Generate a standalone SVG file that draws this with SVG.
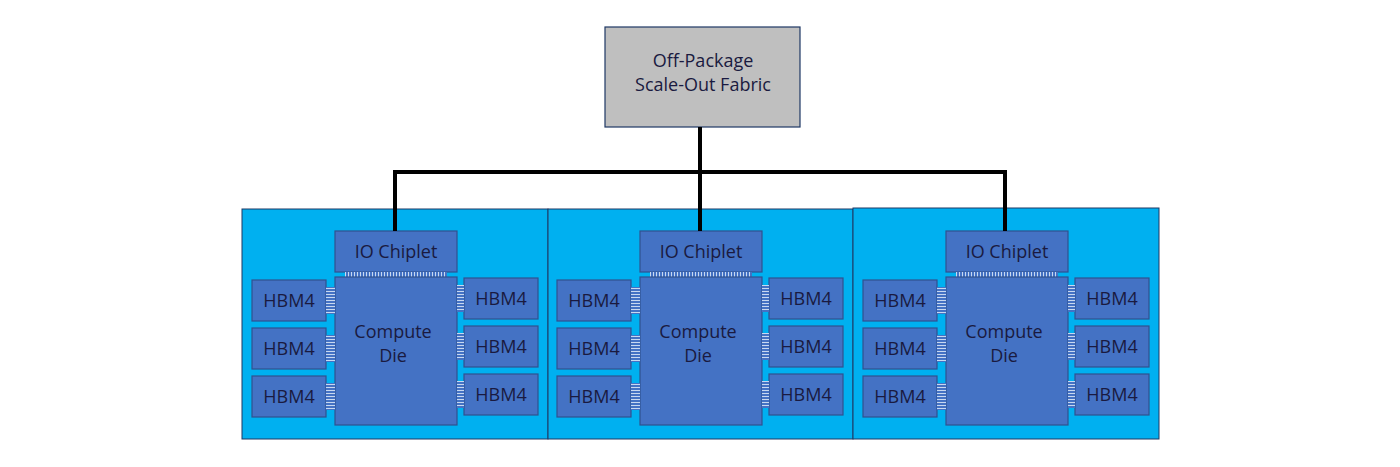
<svg xmlns="http://www.w3.org/2000/svg" width="1400" height="467" viewBox="0 0 1400 467">
<defs>
<style>
.pkg{fill:#00b0f0;stroke:#1f3864;stroke-width:1}
.b{fill:#4472c4;stroke:#2f528f;stroke-width:1.2}
.t{font-family:"Open Sans","Liberation Sans",sans-serif;font-size:18px;fill:#1a1a40;text-anchor:middle}
.w{fill:none;stroke:#000;stroke-width:4}
</style>
<pattern id="hs" width="9" height="3" patternUnits="userSpaceOnUse"><rect width="9" height="3" fill="#4472c4"/><rect width="9" height="1" fill="#c8d8f0"/></pattern>
<pattern id="vs" width="3" height="5" patternUnits="userSpaceOnUse"><rect width="3" height="5" fill="#4472c4"/><rect width="1" height="5" fill="#c8d8f0"/></pattern>
<g id="chip">
<rect class="b" x="335" y="231" width="122" height="41"/>
<text class="t" x="396" y="258">IO Chiplet</text>
<rect x="345" y="272" width="102" height="5" fill="url(#vs)"/>
<rect class="b" x="335" y="277" width="122" height="148"/>
<text class="t" x="393" y="338">Compute</text>
<text class="t" x="393" y="362">Die</text>
<rect class="b" x="252" y="280" width="74" height="41"/><text class="t" x="289" y="307">HBM4</text>
<rect class="b" x="252" y="328" width="74" height="41"/><text class="t" x="289" y="355">HBM4</text>
<rect class="b" x="252" y="376" width="74" height="41"/><text class="t" x="289" y="403">HBM4</text>
<rect class="b" x="464" y="278" width="74" height="41"/><text class="t" x="501" y="305">HBM4</text>
<rect class="b" x="464" y="326" width="74" height="41"/><text class="t" x="501" y="353">HBM4</text>
<rect class="b" x="464" y="374" width="74" height="41"/><text class="t" x="501" y="401">HBM4</text>
<rect x="326" y="287" width="9" height="27" fill="url(#hs)"/>
<rect x="326" y="335" width="9" height="27" fill="url(#hs)"/>
<rect x="326" y="383" width="9" height="27" fill="url(#hs)"/>
<rect x="457" y="285" width="7" height="27" fill="url(#hs)"/>
<rect x="457" y="333" width="7" height="27" fill="url(#hs)"/>
<rect x="457" y="381" width="7" height="27" fill="url(#hs)"/>
</g>
</defs>
<g id="fabric">
<rect x="605" y="27" width="195" height="100" fill="#bfbfbf" stroke="#1f3864" stroke-width="1.2"/>
<text class="t" x="703" y="67">Off-Package</text>
<text class="t" x="703" y="91">Scale-Out Fabric</text>
</g>
<g id="package1"><rect class="pkg" x="242" y="209" width="306" height="230"/><use href="#chip"/></g>
<g id="package2"><rect class="pkg" x="548" y="209" width="305" height="230"/><use href="#chip" x="305"/></g>
<g id="package3"><rect class="pkg" x="853" y="208" width="306" height="231"/><use href="#chip" x="611"/></g>
<g id="connectors">
<path class="w" d="M700 127V172M395 231V172H1005V231M700 172V231"/>
</g>
</svg>
